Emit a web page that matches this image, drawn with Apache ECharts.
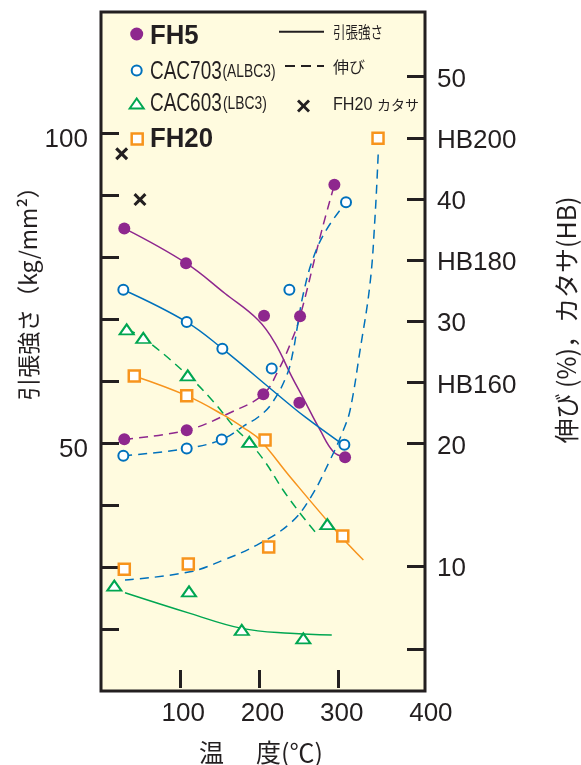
<!DOCTYPE html>
<html><head><meta charset="utf-8">
<script src="https://cdn.jsdelivr.net/npm/echarts@6/dist/echarts.min.js"></script>
<style>html,body{margin:0;padding:0;background:#fff}#c{width:581px;height:765px}</style>
</head><body><div id="c"></div>
<script>
// ---- axis ticks / labels ----
const xTicks = [100, 200, 300];
const xLabels = [100, 200, 300, 400];
const tensileTicks = [20, 30, 40, 50, 60, 70, 80, 90, 100];
const tensileLabels = [50, 100];
const elongTicks = [3.2, 10, 20, 25, 30, 35, 40, 45, 50];
const elongLabels = [10, 20, 30, 40, 50];
const hbLabelPos = [25, 35, 45];          // position on elongation scale
const hbLabelText = ['HB160', 'HB180', 'HB200'];

// ---- FH5 ----
const fh5TensT = [29.4, 107.3, 205.8, 250.4, 308.1];
const fh5Tens = [84.6, 79.0, 70.5, 56.5, 47.7];
const fh5ElT = [29.4, 108.2, 204.9, 251.3, 294.6];
const fh5El = [20.35, 21.09, 24.03, 30.4, 41.16];
const fh5TensCurveT = [29.4, 107.3, 156.6, 198.6, 219.7, 240.8, 255.4, 276.5, 293.3, 308.1];
const fh5TensCurve = [84.6, 79.0, 74.1, 69.8, 66.1, 60.7, 57.2, 52.1, 48.6, 47.7];
const fh5ElCurveT = [29.4, 108.2, 165.0, 204.9, 223.9, 240.8, 251.3, 278.7, 294.6];
const fh5ElCurve = [20.35, 21.09, 22.58, 24.03, 25.99, 28.44, 30.4, 37.43, 41.16];

// ---- CAC703 (ALBC3) ----
const c703TensT = [28.2, 108.2, 153.2, 307.2];
const c703Tens = [74.7, 69.5, 65.2, 49.7];
const c703ElT = [28.2, 108.2, 152.4, 215.5, 237.8, 309.3];
const c703El = [18.99, 19.59, 20.33, 26.13, 32.58, 39.74];
const c703TensCurveT = [28.2, 108.2, 153.2, 223.9, 257.6, 306];
const c703TensCurve = [74.7, 69.5, 65.2, 57.7, 54.2, 49.7];
const c703ElCurveT = [28.2, 108.2, 152.4, 181.8, 198.6, 215.5, 234.5, 242.8, 247.1, 255.4, 267.7, 284.1, 309.3];
const c703ElCurve = [18.99, 19.59, 20.33, 21.5, 22.17, 23.27, 25.58, 27.62, 29.26, 32.25, 35.14, 37.43, 39.72];

// ---- CAC603 (LBC3) ----
const c603TensT = [16.8, 111.1, 177.7, 255.4];
const c603Tens = [27.0, 26.06, 19.84, 18.5];
const c603ElT = [32.4, 53.4, 109.5, 187.2, 285.7];
const c603El = [29.34, 28.63, 25.58, 20.13, 13.4];
const c603TensCurveT = [30.3, 112.4, 177.7, 238.6, 291.3];
const c603TensCurve = [25.85, 22.52, 20.1, 19.3, 19.03];
const c603ElCurveT = [32.4, 53.4, 109.5, 141.4, 169.2, 186.9, 207.1, 229.8, 251.3, 270.2];
const c603ElCurve = [29.34, 28.63, 25.58, 23.46, 21.27, 20.13, 18.5, 16.2, 14.3, 12.78];

// ---- FH20 ----
const fh20TensT = [42.0, 108.2, 207.1, 305.2];
const fh20Tens = [60.81, 57.63, 50.48, 35.0];
const fh20ElT = [29.4, 110.2, 211.7, 349.7];
const fh20El = [9.71, 10.14, 11.53, 44.96];
const fh20TensCurveT = [42.0, 108.2, 154.4, 184.0, 200.8, 238.6, 297.6, 331.2];
const fh20TensCurve = [60.81, 57.63, 54.52, 52.1, 50.48, 44.56, 35.69, 31.13];
const fh20ElCurveT = [30.3, 112.4, 154.4, 196.6, 238.6, 263.9, 289.1, 305.9, 314.4, 327.0, 339.6, 345.9, 350.1];
const fh20ElCurve = [8.83, 9.51, 10.47, 11.69, 13.46, 15.51, 18.64, 21.09, 22.72, 27.62, 33.07, 38.51, 43.96];
// FH20 hardness (HB)
const fh20HbT = [26.1, 49.2];
const fh20Hb = [197.4, 189.9];

// ---- scale ranges ----
const tMin = 0, tMax = 409;
const sMin = 10, sMax = 119.5;
const eMin = -0.24, eMax = 55.29;
const hbMin = 110 + 2 * eMin, hbMax = 110 + 2 * eMax;

const INK = '#231f20';
const PURPLE = '#8e278e', BLUE = '#0071bc', GREEN = '#00a651', ORANGE = '#f7941d';
const BG = '#fffbdf';
const LAT = '"Liberation Sans", Arial, sans-serif';
const CJK = '"Noto Sans CJK JP", sans-serif';

const zip = (a, b) => a.map((v, i) => [v, b[i]]);

function curve(t, v, axis, color, dashed) {
  return {
    type: 'line', yAxisIndex: axis, data: zip(t, v), smooth: 0.4,
    showSymbol: false, silent: true, z: 2,
    lineStyle: { color: color, width: 1.5, type: dashed ? [9, 6] : 'solid' }
  };
}
function marks(t, v, axis, sym, size, item) {
  return { type: 'scatter', yAxisIndex: axis, data: zip(t, v), symbol: sym, symbolSize: size,
           itemStyle: Object.assign({ opacity: 1 }, item), z: 4, silent: true };
}
const openStyle = (c, w) => ({ color: '#ffffff', borderColor: c, borderWidth: w });
const XPATH = 'path://M2,0 L6,4 L10,0 L12,2 L8,6 L12,10 L10,12 L6,8 L2,12 L0,10 L4,6 L0,2 Z';
const tickFont = { fontSize: 26, fontFamily: LAT, color: INK };

const chart = echarts.init(document.getElementById('c'), null, { renderer: 'canvas' });
const option = {
  animation: false,
  backgroundColor: '#ffffff',
  grid: { left: 101, top: 12, width: 324, height: 679, show: true, backgroundColor: BG,
          borderColor: INK, borderWidth: 3, containLabel: false, outerBoundsMode: 'none' },
  xAxis: {
    type: 'value', min: tMin, max: tMax,
    axisLine: { show: false }, splitLine: { show: false },
    axisTick: { show: true, inside: true, length: 18, customValues: xTicks, lineStyle: { color: INK, width: 3 } },
    axisLabel: {
      customValues: xLabels, margin: 10,
      formatter: v => (v === 400 ? '{e|' + v + '}' : '{n|' + v + '}'),
      rich: {
        n: Object.assign({ padding: [0, 0, 0, 6] }, tickFont),
        e: Object.assign({ padding: [0, 0, 0, 26] }, tickFont)
      }
    }
  },
  yAxis: [
    {
      type: 'value', min: sMin, max: sMax, position: 'left',
      axisLine: { show: false }, splitLine: { show: false },
      axisTick: { show: true, inside: true, length: 18, customValues: tensileTicks, lineStyle: { color: INK, width: 3 } },
      axisLabel: {
        customValues: tensileLabels, margin: 13,
        formatter: v => '{a|' + v + '}',
        rich: { a: Object.assign({ padding: [14, 0, 0, 0] }, tickFont) }
      }
    },
    {
      type: 'value', min: eMin, max: eMax, position: 'right',
      axisLine: { show: false }, splitLine: { show: false },
      axisTick: { show: true, inside: true, length: 18, customValues: elongTicks, lineStyle: { color: INK, width: 3 } },
      axisLabel: {
        customValues: elongLabels.concat(hbLabelPos), margin: 12,
        formatter: v => { const i = hbLabelPos.indexOf(v); return '{a|' + (i >= 0 ? hbLabelText[i] : String(v)) + '}'; },
        rich: { a: Object.assign({ padding: [6, 0, 0, 0] }, tickFont) }
      }
    },
    { type: 'value', min: hbMin, max: hbMax, show: false, position: 'right', splitLine: { show: false } }
  ],
  series: [
    curve(fh5TensCurveT, fh5TensCurve, 0, PURPLE, false),
    curve(fh5ElCurveT, fh5ElCurve, 1, PURPLE, true),
    curve(c703TensCurveT, c703TensCurve, 0, BLUE, false),
    curve(c703ElCurveT, c703ElCurve, 1, BLUE, true),
    curve(c603TensCurveT, c603TensCurve, 0, GREEN, false),
    curve(c603ElCurveT, c603ElCurve, 1, GREEN, true),
    curve(fh20TensCurveT, fh20TensCurve, 0, ORANGE, false),
    curve(fh20ElCurveT, fh20ElCurve, 1, BLUE, true),
    marks(fh5TensT, fh5Tens, 0, 'circle', 12, { color: PURPLE }),
    marks(fh5ElT, fh5El, 1, 'circle', 12, { color: PURPLE }),
    marks(c703TensT, c703Tens, 0, 'circle', 10, openStyle(BLUE, 2)),
    marks(c703ElT, c703El, 1, 'circle', 10, openStyle(BLUE, 2)),
    marks(c603TensT, c603Tens, 0, 'triangle', [14, 10], openStyle(GREEN, 2)),
    marks(c603ElT, c603El, 1, 'triangle', [14, 10], openStyle(GREEN, 2)),
    marks(fh20TensT, fh20Tens, 0, 'rect', 11, openStyle(ORANGE, 2.5)),
    marks(fh20ElT, fh20El, 1, 'rect', 11, openStyle(ORANGE, 2.5)),
    marks(fh20HbT, fh20Hb, 2, XPATH, 13, { color: INK })
  ],
  graphic: [
    // legend symbols
    { type: 'circle', shape: { cx: 136.7, cy: 34, r: 6.5 }, style: { fill: PURPLE }, z: 10 },
    { type: 'circle', shape: { cx: 136.7, cy: 70.5, r: 5 }, style: { fill: '#fff', stroke: BLUE, lineWidth: 2 }, z: 10 },
    { type: 'polygon', shape: { points: [[129.7, 108.5], [143.7, 108.5], [136.7, 98.5]] }, style: { fill: '#fff', stroke: GREEN, lineWidth: 2 }, z: 10 },
    { type: 'rect', shape: { x: 131.7, y: 133.5, width: 11, height: 11 }, style: { fill: '#fff', stroke: ORANGE, lineWidth: 2.5 }, z: 10 },
    { type: 'line', shape: { x1: 279, y1: 31.7, x2: 324, y2: 31.7 }, style: { stroke: INK, lineWidth: 2 }, z: 10 },
    { type: 'line', shape: { x1: 285, y1: 66, x2: 324, y2: 66 }, style: { stroke: INK, lineWidth: 2, lineDash: [10, 6] }, z: 10 },
    { type: 'line', shape: { x1: 298, y1: 100.5, x2: 309, y2: 111.5 }, style: { stroke: INK, lineWidth: 2.8 }, z: 10 },
    { type: 'line', shape: { x1: 309, y1: 100.5, x2: 298, y2: 111.5 }, style: { stroke: INK, lineWidth: 2.8 }, z: 10 },
    // legend texts
    { type: 'text', x: 150, y: 36.5, scaleX: 0.92, style: { text: 'FH5', font: 'bold 28px ' + LAT, fill: INK, textVerticalAlign: 'middle' }, z: 10 },
    { type: 'text', x: 150, y: 72, scaleX: 0.73, style: { text: 'CAC703', font: '26px ' + LAT, fill: INK, textVerticalAlign: 'middle' }, z: 10 },
    { type: 'text', x: 222.5, y: 72, scaleX: 0.77, style: { text: '(ALBC3)', font: '18px ' + LAT, fill: INK, textVerticalAlign: 'middle' }, z: 10 },
    { type: 'text', x: 150, y: 104, scaleX: 0.73, style: { text: 'CAC603', font: '26px ' + LAT, fill: INK, textVerticalAlign: 'middle' }, z: 10 },
    { type: 'text', x: 223, y: 104, scaleX: 0.77, style: { text: '(LBC3)', font: '18px ' + LAT, fill: INK, textVerticalAlign: 'middle' }, z: 10 },
    { type: 'text', x: 150, y: 139, scaleX: 0.92, style: { text: 'FH20', font: 'bold 28px ' + LAT, fill: INK, textVerticalAlign: 'middle' }, z: 10 },
    { type: 'text', x: 333, y: 32, scaleX: 0.78, style: { text: '引張強さ', font: '16px ' + CJK, fill: INK, textVerticalAlign: 'middle' }, z: 10 },
    { type: 'text', x: 333, y: 67, style: { text: '伸び', font: '16px ' + CJK, fill: INK, textVerticalAlign: 'middle' }, z: 10 },
    { type: 'text', x: 333, y: 104.5, scaleX: 0.85, style: { text: 'FH20', font: '19px ' + LAT, fill: INK, textVerticalAlign: 'middle' }, z: 10 },
    { type: 'text', x: 377, y: 104.5, style: { text: 'カタサ', font: '14px ' + CJK, fill: INK, textVerticalAlign: 'middle' }, z: 10 },
    // axis titles
    { type: 'text', x: 28, y: 288, rotation: Math.PI / 2, style: { text: '引張強さ（kg/mm²）', font: '23px ' + CJK, fill: INK, textAlign: 'center', textVerticalAlign: 'middle' } },
    { type: 'text', x: 566, y: 320, rotation: Math.PI / 2, style: { text: '伸び (%)，カタサ(HB)', font: '25px ' + CJK, fill: INK, textAlign: 'center', textVerticalAlign: 'middle' } },
    { type: 'text', x: 211.5, y: 752, style: { text: '温', font: '25px ' + CJK, fill: INK, textAlign: 'center', textVerticalAlign: 'middle' } },
    { type: 'text', x: 256, y: 752, style: { text: '度(℃)', font: '25px ' + CJK, fill: INK, textAlign: 'left', textVerticalAlign: 'middle' } }
  ]
};
chart.setOption(option);
</script>
</body></html>
